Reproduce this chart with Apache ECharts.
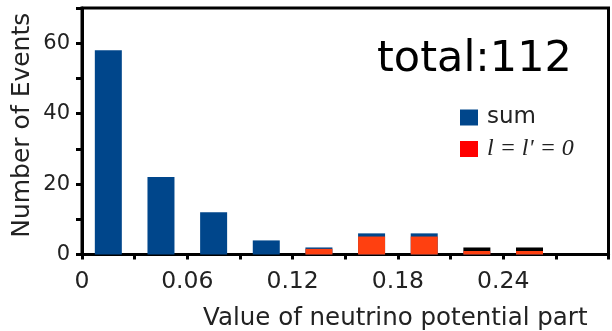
<!DOCTYPE html>
<html><head><meta charset="utf-8">
<script src="https://cdn.jsdelivr.net/npm/echarts@6/dist/echarts.min.js"></script>
<style>html,body{margin:0;padding:0;background:#fff}#c{width:612px;height:331px}</style>
</head><body><div id="c"></div>
<script>
const binCenters = [0.015, 0.045, 0.075, 0.105, 0.135, 0.165, 0.195, 0.225, 0.255];
const sumValues = [58, 22, 12, 4, 2, 6, 6, 1, 1];
const l0Values = [0, 0, 0, 0, 1.6, 5.1, 5.1, 1, 1];
const xTickLabels = ['0', '0.06', '0.12', '0.18', '0.24'];
const yTickLabels = ['0', '20', '40', '60'];
const totalText = 'total:112';
const sumName = 'sum';
const l0Name = "l = l' = 0";

const BLUE = '#00468b', RED = '#ff4010';
const FONT = 'DejaVu Sans';

const chart = echarts.init(document.getElementById('c'), null, {renderer: 'canvas'});
const sumData = binCenters.map((x, i) => [x, sumValues[i]]);
const l0Data = binCenters.map((x, i) => {
  const item = {value: [x, l0Values[i]]};
  if (l0Values[i] > 0 && l0Values[i] >= sumValues[i]) {
    item.itemStyle = {shadowColor: '#000', shadowBlur: 0, shadowOffsetX: 0, shadowOffsetY: -3.5};
  }
  return item;
});

chart.setOption({
  animation: false,
  title: {text: totalText, left: 372, top: 33,
    textStyle: {fontFamily: FONT, fontSize: 43, fontWeight: 'normal', color: '#000'}},
  legend: {
    orient: 'vertical', left: 455, top: 101, itemWidth: 18, itemHeight: 16, itemGap: 8,
    icon: 'rect',
    data: [{name: sumName, itemStyle: {color: BLUE}}, {name: l0Name, itemStyle: {color: '#ff0000'}}],
    formatter: n => n === l0Name ? '{it|' + n + '}' : n,
    textStyle: {fontFamily: FONT, fontSize: 23, color: '#222', lineHeight: 22, padding: [0, 0, 0, 4],
      rich: {it: {fontFamily: 'Liberation Serif', fontStyle: 'italic', fontSize: 24, color: '#222'}}}
  },
  grid: {left: 82, right: 3.5, top: 8, bottom: 76.5, show: true, borderColor: '#000', borderWidth: 3,
    outerBoundsMode: 'none', containLabel: false},
  xAxis: {
    type: 'value', min: 0, max: 0.30, interval: 0.03,
    name: 'Value of neutrino potential part', nameLocation: 'end', nameGap: -21,
    nameMoveOverlap: false,
    nameTextStyle: {fontFamily: FONT, fontSize: 24.5, color: '#222', align: 'right', verticalAlign: 'top', padding: [52, 0, 0, 0]},
    axisLine: {lineStyle: {color: '#000', width: 3}},
    axisTick: {length: 5, lineStyle: {color: '#000', width: 3}},
    splitLine: {show: false},
    axisLabel: {margin: 15, fontFamily: FONT, fontSize: 23.5, color: '#222',
      formatter: v => { const s = xTickLabels.find(l => Math.abs(parseFloat(l) - v) < 1e-6); return s === undefined ? '' : s; }}
  },
  yAxis: {
    type: 'value', min: 0, max: 70, interval: 10,
    name: 'Number of Events', nameLocation: 'middle', nameGap: 47,
    nameMoveOverlap: false,
    nameTextStyle: {fontFamily: FONT, fontSize: 25, color: '#222', padding: [0, 0, 0, 12]},
    axisLine: {show: true, lineStyle: {color: '#000', width: 3}},
    axisTick: {show: true, length: 6, lineStyle: {color: '#000', width: 3}},
    splitLine: {show: false},
    axisLabel: {margin: 12, fontFamily: FONT, fontSize: 21, color: '#222',
      formatter: v => { const s = yTickLabels.find(l => Math.abs(parseFloat(l) - v) < 1e-6); return s === undefined ? '' : s; }}
  },
  series: [
    {name: sumName, type: 'bar', data: sumData, barWidth: 27, barGap: '-100%', itemStyle: {color: BLUE}},
    {name: l0Name, type: 'bar', data: l0Data, barWidth: 27, barGap: '-100%', itemStyle: {color: RED}}
  ]
});
</script></body></html>
